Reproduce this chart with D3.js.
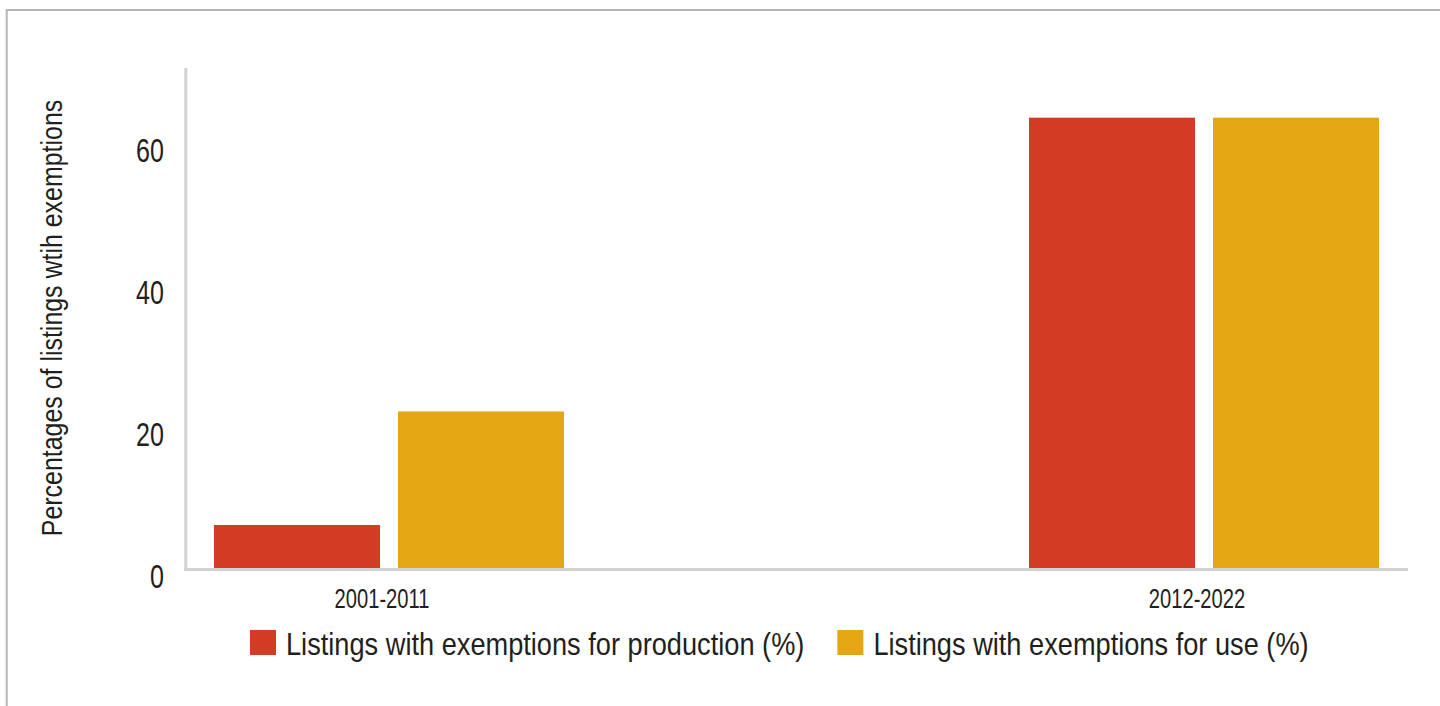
<!DOCTYPE html>
<html>
<head>
<meta charset="utf-8">
<script src="https://cdn.jsdelivr.net/npm/d3@7"></script>
<style>
  html, body { margin: 0; padding: 0; background: #fff; }
  svg { display: block; }
  text { font-family: "Liberation Sans", Arial, sans-serif; fill: #231f20; }
</style>
</head>
<body>
<svg id="chart" width="1440" height="706"></svg>
<script>
const categories = ["2001-2011", "2012-2022"];
const seriesNames = ["Listings with exemptions for production (%)", "Listings with exemptions for use (%)"];
const productionValues = [6.2, 63.6];
const useValues = [22.2, 63.6];
const yTicks = [0, 20, 40, 60];
const yTitle = "Percentages of listings wtih exemptions";
const colors = ["#d33c24", "#e5a613"];

const svg = d3.select("#chart");

// outer frame
svg.append("rect")
  .attr("x", 6.7).attr("y", 10)
  .attr("width", 1500).attr("height", 800)
  .attr("fill", "none").attr("stroke", "#b5b5b5").attr("stroke-width", 2);

const axisLeft = 185.8, axisRight = 1408, baseY = 569, topY = 68;

const y = d3.scaleLinear().domain([0, 70.6]).range([baseY, topY]);
const x0 = d3.scaleBand().domain(categories).range([214, 1379]).paddingInner(0.5706).paddingOuter(0);
const x1 = d3.scaleBand().domain(seriesNames).range([0, x0.bandwidth()]).paddingInner(0.0978).paddingOuter(0);

const data = categories.map((c, i) => ({
  cat: c,
  vals: [
    { s: seriesNames[0], v: productionValues[i], col: colors[0] },
    { s: seriesNames[1], v: useValues[i], col: colors[1] }
  ]
}));

// bars
const g = svg.append("g");
g.selectAll("g.grp").data(data).join("g")
  .attr("class", "grp")
  .attr("transform", d => `translate(${x0(d.cat)},0)`)
  .selectAll("rect").data(d => d.vals).join("rect")
  .attr("x", d => x1(d.s))
  .attr("width", x1.bandwidth())
  .attr("y", d => y(d.v))
  .attr("height", d => baseY - y(d.v))
  .attr("fill", d => d.col);

// axes lines
svg.append("line")
  .attr("x1", axisLeft).attr("x2", axisLeft)
  .attr("y1", topY).attr("y2", baseY + 2)
  .attr("stroke", "#d2d2d2").attr("stroke-width", 3);
svg.append("line")
  .attr("x1", axisLeft - 1.5).attr("x2", axisRight)
  .attr("y1", baseY + 0.5).attr("y2", baseY + 0.5)
  .attr("stroke", "#d2d2d2").attr("stroke-width", 3);

// y tick labels via d3 axis (condensed look)
const yAxis = d3.axisLeft(y).tickValues(yTicks).tickSize(0).tickPadding(0).tickFormat(d3.format("d"));
const yg = svg.append("g").attr("transform", `translate(164,8)`).call(yAxis);
yg.select(".domain").remove();
yg.selectAll("text")
  .attr("font-family", null).attr("font-size", null).attr("fill", "#231f20")
  .style("font-size", "33px")
  .attr("x", 0)
  .attr("transform", "scale(0.76,1)");

// x category labels
const xAxis = d3.axisBottom(x0).tickSize(0).tickPadding(0);
const xg = svg.append("g").attr("transform", `translate(-7,${baseY + 39})`).call(xAxis);
xg.select(".domain").remove();
xg.selectAll("text")
  .attr("font-family", null).attr("font-size", null)
  .attr("dy", 0).attr("y", 0)
  .style("font-size", "28px").attr("fill", "#231f20")
  .attr("transform", "scale(0.72,1)");

// y title
svg.append("text")
  .attr("transform", `translate(62,318) rotate(-90) scale(0.86,1)`)
  .attr("text-anchor", "middle")
  .style("font-size", "29px")
  .text(yTitle);

// legend
const lsx = 0.85;
const legend = svg.append("g").attr("transform", "translate(250,0)");
let lx = 0;
seriesNames.forEach((s, i) => {
  const item = legend.append("g").attr("transform", `translate(${lx},0)`);
  item.append("rect").attr("x", 0).attr("y", 630).attr("width", 26).attr("height", 25).attr("fill", colors[i]);
  const t = item.append("text")
    .attr("transform", `translate(36,655) scale(${lsx},1)`)
    .style("font-size", "32px").text(s);
  lx += 36 + t.node().getComputedTextLength() * lsx + 33;
});
</script>
</body>
</html>
